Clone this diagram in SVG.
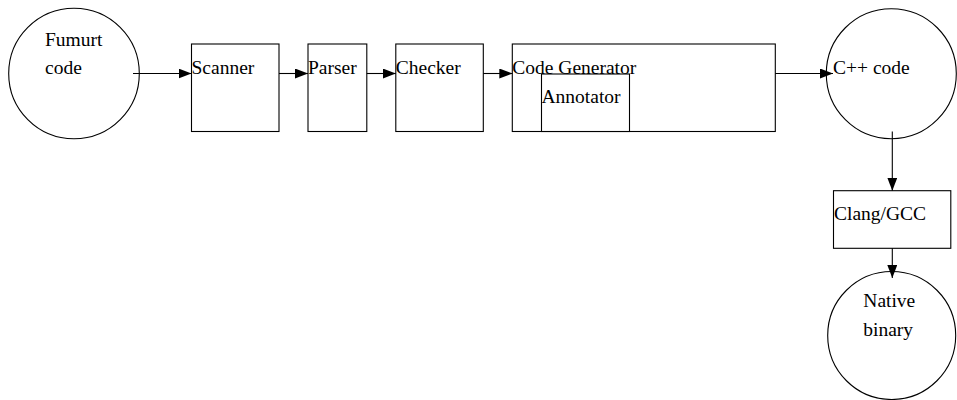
<svg xmlns="http://www.w3.org/2000/svg" width="957" height="400" viewBox="0 0 957 400">
<style>
.s{fill:#fff;stroke:#000;stroke-width:1.1}
.c{stroke:#000;stroke-width:1.1;fill:none}
</style>
<defs>
<marker id="ah" markerUnits="userSpaceOnUse" markerWidth="14" markerHeight="11" refX="13" refY="5" orient="auto">
<path d="M0,0 L13,5 L0,10 z" fill="#000"/>
</marker>
</defs>
<rect width="957" height="400" fill="#fff"/>
<g font-size="19.5" fill="#000">
<g id="fumurt"><circle class="s" cx="74" cy="73.5" r="65.3"/><text x="45" y="46" font-family="Liberation Serif">Fumurt</text><text x="45" y="74" font-family="Liberation Serif">code</text></g>
<g id="scanner"><rect class="s" x="191.5" y="44" width="87.5" height="87.5"/><text x="191.5" y="74" font-family="Liberation Serif">Scanner</text></g>
<g id="parser"><rect class="s" x="308" y="44" width="58.8" height="87.5"/><text x="308" y="74" font-family="Liberation Serif">Parser</text></g>
<g id="checker"><rect class="s" x="395.8" y="44" width="87.5" height="87.5"/><text x="395.8" y="74" font-family="Liberation Serif">Checker</text></g>
<g id="codegen"><rect class="s" x="512.3" y="44" width="263" height="87.5"/><text x="512.3" y="74" font-family="Liberation Serif">Code Generator</text></g>
<g id="annotator"><rect class="s" x="541.5" y="74" width="88" height="57.5"/><text x="541.5" y="103" font-family="Liberation Serif">Annotator</text></g>
<g id="cpp"><circle class="s" cx="891.3" cy="73.7" r="65"/><text x="833" y="74" font-family="Liberation Serif">C++ code</text></g>
<g id="clang"><rect class="s" x="833.5" y="190.7" width="117.3" height="57.6"/><text x="834" y="220" font-family="Liberation Serif">Clang/GCC</text></g>
<g id="native"><circle class="s" cx="891.7" cy="335.5" r="64"/><text x="863.3" y="307" font-family="Liberation Serif">Native</text><text x="863.3" y="336" font-family="Liberation Serif">binary</text></g>
</g>
<g id="connectors">
<line class="c" x1="133" y1="73.5" x2="191.5" y2="73.5" marker-end="url(#ah)"/>
<line class="c" x1="279" y1="73.5" x2="308" y2="73.5" marker-end="url(#ah)"/>
<line class="c" x1="366.8" y1="73.5" x2="395.8" y2="73.5" marker-end="url(#ah)"/>
<line class="c" x1="483.3" y1="73.5" x2="512.3" y2="73.5" marker-end="url(#ah)"/>
<line class="c" x1="775.3" y1="73.5" x2="833" y2="73.5" marker-end="url(#ah)"/>
<line class="c" x1="892.3" y1="131.5" x2="892.3" y2="190.7" marker-end="url(#ah)"/>
<line class="c" x1="892.3" y1="248.3" x2="892.3" y2="278" marker-end="url(#ah)"/>
</g>
</svg>
